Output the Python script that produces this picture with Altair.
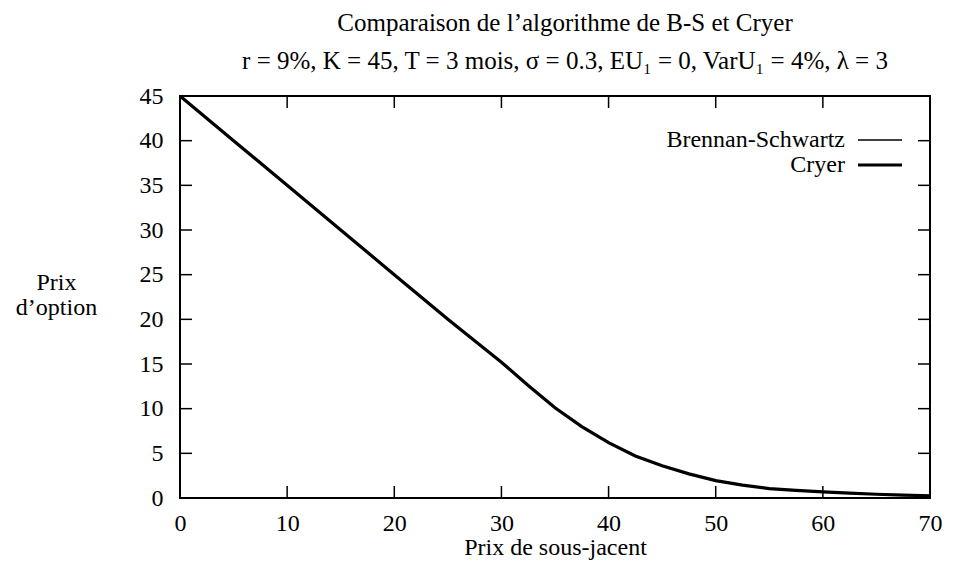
import altair as alt
import pandas as pd

# ---- data ----
x_values = [0, 5, 10, 15, 20, 25, 27.5, 30, 32.5, 35, 37.5, 40, 42.5, 45,
            47.5, 50, 52.5, 55, 57.5, 60, 62.5, 65, 67.5, 70]
bs_values = [45, 40, 35, 30, 25, 20, 17.6, 15.2, 12.6, 10.1, 8.0, 6.2, 4.7, 3.6,
             2.7, 1.95, 1.45, 1.05, 0.85, 0.68, 0.55, 0.42, 0.32, 0.25]
cryer_values = [45, 40, 35, 30, 25, 20, 17.6, 15.2, 12.6, 10.1, 8.0, 6.2, 4.7, 3.6,
                2.7, 1.95, 1.45, 1.05, 0.85, 0.68, 0.55, 0.42, 0.32, 0.25]
series_names = ["Brennan-Schwartz", "Cryer"]
series_widths = [1.5, 3.2]
x_ticks = [0, 10, 20, 30, 40, 50, 60, 70]
y_ticks = [0, 5, 10, 15, 20, 25, 30, 35, 40, 45]

title_lines = ["Comparaison de l\u2019algorithme de B-S et Cryer",
               "r = 9%, K = 45, T = 3 mois, \u03c3 = 0.3, EU\u2081 = 0, VarU\u2081 = 4%, \u03bb = 3"]

FONT = "Liberation Serif"
FS = 24
W, H = 750, 402

rows = []
for name, vals in zip(series_names, [bs_values, cryer_values]):
    for xv, yv in zip(x_values, vals):
        rows.append({"S": xv, "V": yv, "serie": name})
df = pd.DataFrame(rows)
xt = pd.DataFrame({"t": x_ticks})
yt = pd.DataFrame({"t": y_ticks})
leg_df = pd.DataFrame({"serie": series_names, "w": series_widths})

xscale = alt.Scale(domain=[0, 70], nice=False, zero=False)
yscale = alt.Scale(domain=[0, 45], nice=False, zero=False)

lines = alt.Chart(df).mark_line(color="black").encode(
    x=alt.X("S:Q", scale=xscale,
            axis=alt.Axis(values=x_ticks, title="Prix de sous-jacent", grid=False,
                          ticks=False, tickSize=0, domain=False, labelPadding=13,
                          titlePadding=0, labelFlush=False)),
    y=alt.Y("V:Q", scale=yscale,
            axis=alt.Axis(values=y_ticks, title=["Prix", "d\u2019option"], grid=False,
                          ticks=False, tickSize=0, domain=False, labelPadding=17,
                          titleAngle=0, titleAlign="center", titleBaseline="middle",
                          titleX=-124, titleY=186, titleLineHeight=25, labelFlush=False)),
    detail="serie:N",
    strokeWidth=alt.StrokeWidth("serie:N", sort=series_names,
                                scale=alt.Scale(domain=series_names, range=series_widths),
                                legend=None),
)

tick_len = 12
bx = alt.Chart(xt).mark_rule(color="black", strokeWidth=1.5).encode(
    x=alt.X("t:Q", scale=xscale), y=alt.value(H), y2=alt.value(H - tick_len))
tx = alt.Chart(xt).mark_rule(color="black", strokeWidth=1.5).encode(
    x=alt.X("t:Q", scale=xscale), y=alt.value(0), y2=alt.value(tick_len))
ly = alt.Chart(yt).mark_rule(color="black", strokeWidth=1.5).encode(
    y=alt.Y("t:Q", scale=yscale), x=alt.value(0), x2=alt.value(tick_len))
ry = alt.Chart(yt).mark_rule(color="black", strokeWidth=1.5).encode(
    y=alt.Y("t:Q", scale=yscale), x=alt.value(W), x2=alt.value(W - tick_len))

# gnuplot-style key: label, then line sample, inside the top-right corner
leg_layers = []
for i, name in enumerate(series_names):
    ypos = 44 + 25 * i
    base = alt.Chart(leg_df).transform_filter(alt.datum.serie == name)
    leg_layers.append(base.mark_text(align="right", baseline="middle", font=FONT,
                                     fontSize=FS, color="black").encode(
        text="serie:N", x=alt.value(665), y=alt.value(ypos)))
    leg_layers.append(base.mark_rule(color="black", strokeWidth=series_widths[i]).encode(
        x=alt.value(678), x2=alt.value(722), y=alt.value(ypos)))

chart = alt.layer(bx, tx, ly, ry, lines, *leg_layers).properties(
    width=W, height=H,
    background="white",
    title=alt.TitleParams(text=title_lines, font=FONT, fontSize=25, fontWeight="normal",
                          color="black", lineHeight=38, anchor="middle", offset=10, dx=10),
    autosize=alt.AutoSizeParams(type="none"),
    padding={"left": 172, "top": 88, "right": 40, "bottom": 68},
).configure_view(stroke="black", strokeWidth=2).configure_axis(
    labelFont=FONT, labelFontSize=FS, labelColor="black",
    titleFont=FONT, titleFontSize=FS, titleColor="black", titleFontWeight="normal",
)

chart.save("out.html", embed_options={"renderer": "svg", "actions": False})
